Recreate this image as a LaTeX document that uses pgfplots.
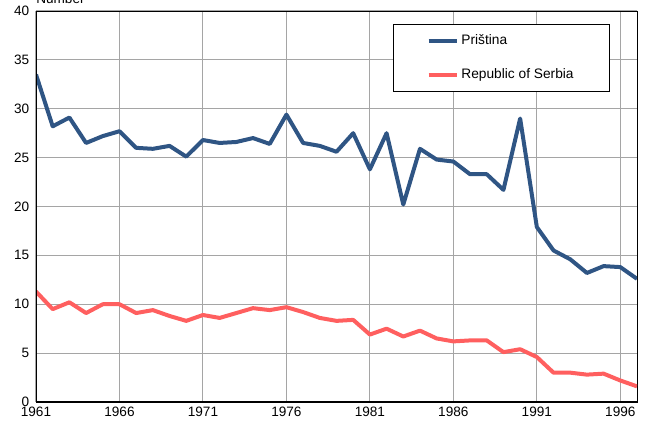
\documentclass[border=0pt]{standalone}
\usepackage{pgfplots}
\pgfplotsset{compat=1.18}
\usepackage{fontspec}
\setmainfont{Liberation Sans}
\definecolor{pblue}{RGB}{47,85,132}
\definecolor{sred}{RGB}{255,95,95}
\definecolor{gridc}{RGB}{165,165,165}
\pgfplotstableread{
year pr rs
1961 33.5 11.3
1962 28.2 9.5
1963 29.1 10.2
1964 26.5 9.1
1965 27.2 10.0
1966 27.7 10.0
1967 26.0 9.1
1968 25.9 9.4
1969 26.2 8.8
1970 25.1 8.3
1971 26.8 8.9
1972 26.5 8.6
1973 26.6 9.1
1974 27.0 9.6
1975 26.4 9.4
1976 29.4 9.7
1977 26.5 9.2
1978 26.2 8.6
1979 25.6 8.3
1980 27.5 8.4
1981 23.8 6.9
1982 27.5 7.5
1983 20.2 6.7
1984 25.9 7.3
1985 24.8 6.5
1986 24.6 6.2
1987 23.3 6.3
1988 23.3 6.3
1989 21.7 5.1
1990 29.0 5.4
1991 17.9 4.6
1992 15.5 3.0
1993 14.6 3.0
1994 13.2 2.8
1995 13.9 2.9
1996 13.8 2.2
1997 12.6 1.6
}\data
\begin{document}
\begin{tikzpicture}
\begin{axis}[
  at={(27pt,15.75pt)}, anchor=origin,
  scale only axis, width=450.75pt, height=293.25pt,
  xmin=1961, xmax=1997, ymin=0, ymax=40,
  xtick={1961,1966,1971,1976,1981,1986,1991,1996},
  ytick={0,5,10,15,20,25,30,35,40},
  xticklabel style={/pgf/number format/1000 sep={}},
  /pgf/number format/assume math mode=true,
  major tick length=0pt,
  grid=major,
  major grid style={gridc, line width=0.8pt},
  axis line style={black, line width=0.6pt},
  ticklabel style={font=\fontsize{10.2pt}{12pt}\selectfont},
  xticklabel style={yshift=-0.5pt},
  yticklabel style={xshift=-1.5pt},
  legend style={at={(0.594,0.967)}, anchor=north west, draw=black, line width=0.6pt,
    inner xsep=25pt, inner ysep=6pt, row sep=12.5pt,
    font=\fontsize{10.3pt}{12pt}\selectfont},
  legend cell align=left,
  legend image code/.code={\draw[#1, line width=3pt] (0pt,0pt) -- (21pt,0pt);},
]
\addplot[pblue, line width=3pt, line join=round] table[x=year, y=pr] {\data};
\addlegendentry{Priština}
\addplot[sred, line width=3pt, line join=round] table[x=year, y=rs] {\data};
\addlegendentry{Republic of Serbia}
\draw[black, line width=1.2pt] (rel axis cs:0,1) -- (rel axis cs:0,0) -- (rel axis cs:1,0);
\end{axis}
\node[anchor=base west, inner sep=0pt, font=\fontsize{10.2pt}{12pt}\selectfont] at (27pt,314.9pt) {Number};
\pgfresetboundingbox
\path[use as bounding box] (0,0) rectangle (486pt,317.25pt);
\end{tikzpicture}
\end{document}
